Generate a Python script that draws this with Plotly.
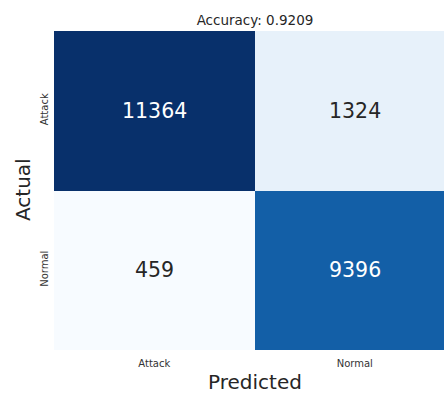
import plotly.graph_objects as go

labels = ["Attack", "Normal"]
cm = [[11364, 1324],
      [459, 9396]]
accuracy = 0.9209

blues = [
    [0.0, "rgb(247,251,255)"], [0.125, "rgb(222,235,247)"], [0.25, "rgb(198,219,239)"],
    [0.375, "rgb(158,202,225)"], [0.5, "rgb(107,174,214)"], [0.625, "rgb(66,146,198)"],
    [0.75, "rgb(33,113,181)"], [0.875, "rgb(8,81,156)"], [1.0, "rgb(8,48,107)"],
]

zmin = min(min(r) for r in cm)
zmax = max(max(r) for r in cm)

fig = go.Figure(go.Heatmap(
    z=cm, x=labels, y=labels, colorscale=blues, zmin=zmin, zmax=zmax,
    showscale=False, hoverinfo="skip",
))

thr = (zmin + zmax) / 2
for i, row in enumerate(cm):
    for j, v in enumerate(row):
        fig.add_annotation(
            x=labels[j], y=labels[i], text=str(v), showarrow=False,
            font=dict(size=20.5, color="white" if v > thr else "#262626",
                      family="DejaVu Sans"),
        )

# axis titles placed as annotations (paper coords relative to plot area)
fig.add_annotation(text="Predicted", xref="paper", yref="paper",
                   x=(255 - 54) / 390, y=(350 - 382) / 319,
                   xanchor="center", yanchor="middle", showarrow=False,
                   font=dict(size=20, color="#262626"))
fig.add_annotation(text="Actual", xref="paper", yref="paper",
                   x=(23 - 54) / 390, y=(350 - 190) / 319, textangle=-90,
                   xanchor="center", yanchor="middle", showarrow=False,
                   font=dict(size=20, color="#262626"))

fig.update_layout(
    width=444, height=400,
    margin=dict(l=54, r=0, t=31, b=50),
    paper_bgcolor="white", plot_bgcolor="white",
    font=dict(family="DejaVu Sans", color="#262626"),
    title=dict(text=f"Accuracy: {accuracy:.4f}", x=255/444, xanchor="center",
               y=1 - 20/400, yanchor="middle", font=dict(size=13.5, color="#262626")),
    xaxis=dict(range=[-0.5, 1.445], showgrid=False, zeroline=False, ticks="",
               tickfont=dict(size=10, color="#333333"), ticklabelstandoff=6),
    yaxis=dict(range=[1.5, -0.5], showgrid=False, zeroline=False, ticks="",
               tickangle=-90, tickfont=dict(size=10, color="#333333"),
               ticklabelstandoff=3),
)

fig.write_html("out.html")
